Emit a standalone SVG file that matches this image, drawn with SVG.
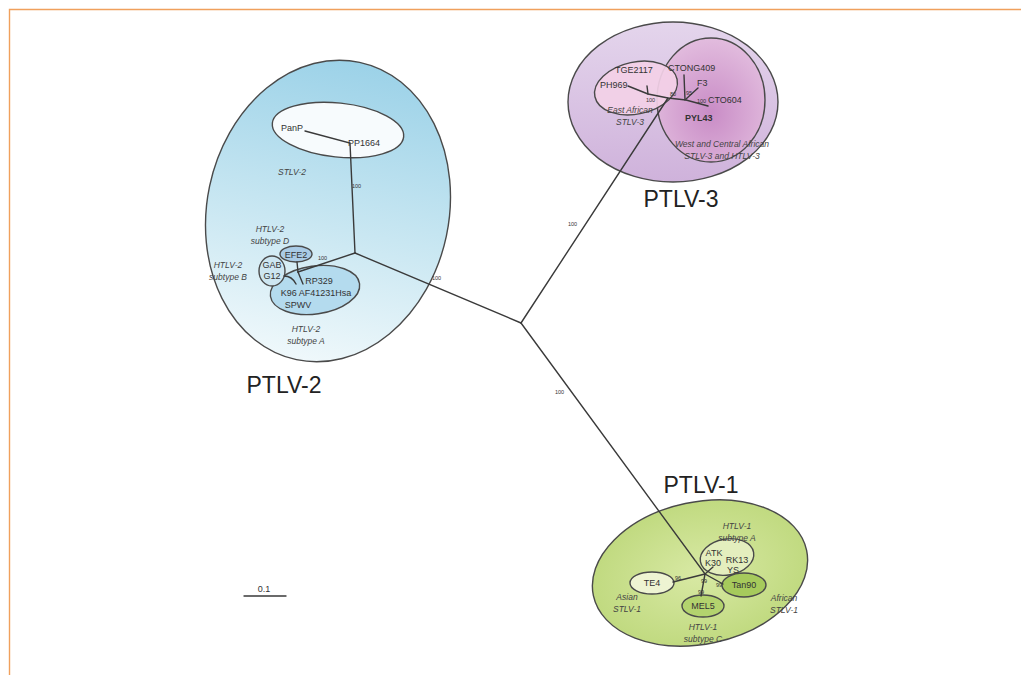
<svg xmlns="http://www.w3.org/2000/svg" width="1021" height="675" viewBox="0 0 1021 675">
  <defs>
    <linearGradient id="gBlue" x1="0" y1="0" x2="0" y2="1">
      <stop offset="0" stop-color="#9cd2e8"/>
      <stop offset="0.55" stop-color="#c9e7f2"/>
      <stop offset="1" stop-color="#eff8fb"/>
    </linearGradient>
    <linearGradient id="gLav" x1="0" y1="0" x2="0" y2="1">
      <stop offset="0" stop-color="#e4d5ec"/>
      <stop offset="1" stop-color="#cfb2db"/>
    </linearGradient>
    <radialGradient id="gPlum" cx="0.5" cy="0.6" r="0.6">
      <stop offset="0" stop-color="#c98cc6"/>
      <stop offset="1" stop-color="#e2bcde"/>
    </radialGradient>
    <radialGradient id="gGreen" cx="0.5" cy="0.5" r="0.6">
      <stop offset="0" stop-color="#d8e9a4"/>
      <stop offset="1" stop-color="#bcd779"/>
    </radialGradient>
  </defs>
  <style>
    .frame { stroke: #f0a05c; stroke-width: 1.4; fill: none; }
    .ring { stroke: #4a4a4a; stroke-width: 1.4; }
    .br { stroke: #3a3a3a; stroke-width: 1.4; fill: none; stroke-linecap: round; }
    .t { font-family: "Liberation Sans", Arial, sans-serif; fill: #333; font-size: 9px; }
    .c { text-anchor: middle; }
    .i { font-style: italic; font-size: 8.5px; fill: #444; }
    .b { font-family: "Liberation Sans", Arial, sans-serif; font-size: 5.5px; fill: #333; }
    .big { font-family: "Liberation Sans", Arial, sans-serif; font-size: 23px; fill: #222; text-anchor: middle; }
  </style>

  <rect width="1021" height="675" fill="#ffffff"/>
  <path class="frame" d="M9.5 675 V9.5 H1021"/>

  <!-- PTLV-2 cluster -->
  <g id="ptlv2">
    <ellipse class="ring" cx="328" cy="211" rx="121" ry="152" transform="rotate(12 328 211)" fill="url(#gBlue)"/>
    <ellipse class="ring" cx="338" cy="130" rx="66" ry="27" transform="rotate(6 338 130)" fill="#f7fbfd"/>
    <text class="t" x="281" y="131" font-size="8.5">PanP</text>
    <text class="t" x="348" y="146" font-size="8.5">PP1664</text>
    <text class="t i" x="278" y="175">STLV-2</text>
    <text class="t i c" x="270" y="232">HTLV-2</text>
    <text class="t i c" x="270" y="244">subtype D</text>
    <text class="t i c" x="228" y="268">HTLV-2</text>
    <text class="t i c" x="228" y="280">subtype B</text>
    <ellipse class="ring" cx="315" cy="290" rx="45" ry="24" transform="rotate(-8 315 290)" fill="#b4dbee"/>
    <ellipse class="ring" cx="296" cy="254" rx="16" ry="8" fill="#a9cbe6"/>
    <text class="t c" x="296" y="257.5" font-size="8.5">EFE2</text>
    <ellipse class="ring" cx="272" cy="271" rx="13" ry="15" fill="#cde6f1"/>
    <text class="t c" x="272" y="268" font-size="8.5">GAB</text>
    <text class="t c" x="272" y="279" font-size="8.5">G12</text>
    <text class="t c" x="319" y="284" font-size="8.5">RP329</text>
    <text class="t c" x="316" y="296" font-size="8.5">K96 AF41231Hsa</text>
    <text class="t c" x="298" y="308" font-size="8.5">SPWV</text>
    <text class="t i c" x="306" y="332">HTLV-2</text>
    <text class="t i c" x="306" y="344">subtype A</text>
    <text class="big" x="284" y="393">PTLV-2</text>
  </g>

  <!-- PTLV-3 cluster -->
  <g id="ptlv3">
    <ellipse class="ring" cx="673" cy="102" rx="105" ry="80" fill="url(#gLav)"/>
    <ellipse class="ring" cx="711" cy="100" rx="54" ry="62" fill="url(#gPlum)"/>
    <ellipse class="ring" cx="636" cy="88" rx="42" ry="26" transform="rotate(-12 636 88)" fill="#f3d0e7" fill-opacity="0.92"/>
    <text class="t" x="615" y="73" font-size="8.5">TGE2117</text>
    <text class="t" x="668" y="71" font-size="8.5">CTONG409</text>
    <text class="t" x="600" y="88" font-size="8.5">PH969</text>
    <text class="t" x="697" y="86" font-size="8.5">F3</text>
    <text class="t" x="708" y="103" font-size="8.5">CTO604</text>
    <text class="t" x="685" y="121" font-size="14" font-weight="bold" fill="#111">PYL43</text>
    <text class="t i c" x="630" y="113">East African</text>
    <text class="t i c" x="630" y="125">STLV-3</text>
    <text class="t i c" x="722" y="147">West and Central African</text>
    <text class="t i c" x="722" y="159">STLV-3 and HTLV-3</text>
    <text class="big" x="681" y="207">PTLV-3</text>
  </g>

  <!-- PTLV-1 cluster -->
  <g id="ptlv1">
    <ellipse class="ring" cx="700" cy="573" rx="109" ry="71" transform="rotate(-12 700 573)" fill="url(#gGreen)"/>
    <ellipse class="ring" cx="727" cy="557" rx="27" ry="18" transform="rotate(-10 727 557)" fill="#e4eebe"/>
    <ellipse class="ring" cx="652" cy="583" rx="22" ry="11" fill="#eef4d2"/>
    <ellipse class="ring" cx="744" cy="585" rx="22" ry="12" fill="#a6ca5c"/>
    <ellipse class="ring" cx="703" cy="606" rx="21" ry="11" fill="#b3d36e"/>
    <text class="t c" x="714" y="556" font-size="8.5">ATK</text>
    <text class="t c" x="713" y="566" font-size="8.5">K30</text>
    <text class="t c" x="737" y="563" font-size="8.5">RK13</text>
    <text class="t c" x="733" y="573" font-size="8.5">YS</text>
    <text class="t c" x="652" y="586" font-size="8.5">TE4</text>
    <text class="t c" x="744" y="588" font-size="8.5">Tan90</text>
    <text class="t c" x="703" y="609" font-size="8.5">MEL5</text>
    <text class="t i c" x="737" y="529">HTLV-1</text>
    <text class="t i c" x="737" y="541">subtype A</text>
    <text class="t i c" x="627" y="600">Asian</text>
    <text class="t i c" x="627" y="612">STLV-1</text>
    <text class="t i c" x="784" y="601">African</text>
    <text class="t i c" x="784" y="613">STLV-1</text>
    <text class="t i c" x="703" y="630">HTLV-1</text>
    <text class="t i c" x="703" y="642">subtype C</text>
    <text class="big" x="701" y="493">PTLV-1</text>
  </g>

  <!-- tree branches -->
  <g id="connectors">
    <path class="br" d="M521 323 L355 253"/>
    <path class="br" d="M355 253 L350 143 L305 131"/>
    <path class="br" d="M355 253 L298 272"/>
    <path class="br" d="M298 272 L297 262"/>
    <path class="br" d="M298 272 L303 284"/>
    <path class="br" d="M284 276 Q292 276 296 284"/>
    <path class="br" d="M521 323 L668 98"/>
    <path class="br" d="M628 86 L648 94 L668 98 L686 100 L708 106"/>
    <path class="br" d="M648 94 L647 86"/>
    <path class="br" d="M684 75 L685 100"/>
    <path class="br" d="M698 88 L686 99"/>
    <path class="br" d="M521 323 L705 574 L723 584"/>
    <path class="br" d="M673 582 L705 574"/>
    <path class="br" d="M705 574 L701 596"/>
    <path class="br" d="M705 574 L713 567"/>
    <path class="br" d="M244 596 H286"/>
  </g>

  <!-- support values and scale -->
  <g id="labels">
    <text class="b" x="352" y="188">100</text>
    <text class="b" x="432" y="280">100</text>
    <text class="b" x="318" y="260">100</text>
    <text class="b" x="568" y="226">100</text>
    <text class="b" x="555" y="394">100</text>
    <text class="b" x="646" y="102">100</text>
    <text class="b" x="670" y="96">80</text>
    <text class="b" x="686" y="95">95</text>
    <text class="b" x="697" y="103">100</text>
    <text class="b" x="675" y="580">96</text>
    <text class="b" x="701" y="583">99</text>
    <text class="b" x="716" y="587">99</text>
    <text class="b" x="698" y="594">99</text>
    <text class="t c" x="264" y="592" font-size="8">0.1</text>
  </g>
</svg>
